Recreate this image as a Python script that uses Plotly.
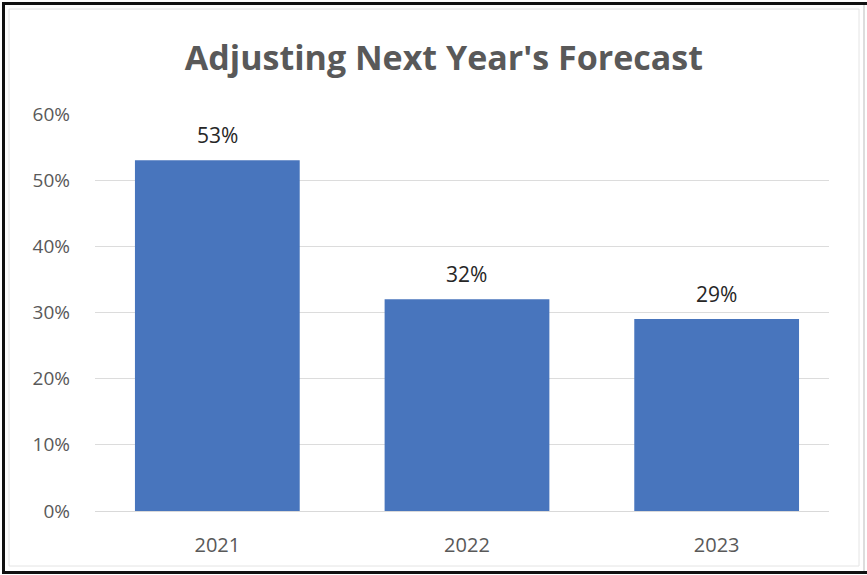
import plotly.graph_objects as go

# Share of respondents adjusting next year's forecast, by year
years = ["2021", "2022", "2023"]
shares = [0.53, 0.32, 0.29]
y_ticks = [0, 0.1, 0.2, 0.3, 0.4, 0.5, 0.6]
y_tick_labels = ["0%", "10%", "20%", "30%", "40%", "50%", "60%"]

W, H = 867, 575
L, R, T, B = 95, 38, 114, 64
FONT = "Open Sans, Liberation Sans, sans-serif"

fig = go.Figure()
fig.add_trace(go.Bar(
    x=years,
    y=shares,
    width=0.66,
    marker=dict(color="#4875bd", line=dict(width=0)),
    hoverinfo="skip",
))

# value labels above each bar (category index as x position)
for i, v in enumerate(shares):
    fig.add_annotation(
        x=i, y=v, xref="x", yref="y", text=f"{v:.0%}",
        showarrow=False, yanchor="bottom", yshift=9,
        font=dict(family=FONT, size=21, color="#262626"),
    )

fig.update_layout(
    width=W, height=H,
    margin=dict(l=L, r=R, t=T, b=B, pad=0),
    paper_bgcolor="white",
    plot_bgcolor="white",
    showlegend=False,
    title=dict(
        text="<b>Adjusting Next Year's Forecast</b>",
        x=0.512, xanchor="center",
        y=1 - 58 / H, yanchor="middle",
        font=dict(family=FONT, size=34, color="#595959"),
    ),
    xaxis=dict(
        type="category",
        range=[-0.49, 2.45],
        showgrid=False,
        showline=True, linecolor="#d9d9d9", linewidth=1,
        ticks="",
        tickfont=dict(family=FONT, size=20, color="#595959"),
        ticklabelstandoff=16,
    ),
    yaxis=dict(
        range=[0, 0.6],
        tickvals=y_ticks,
        ticktext=y_tick_labels,
        showgrid=True, gridcolor="#dcdcdc", gridwidth=1,
        zeroline=False,
        showline=False,
        ticks="",
        ticklabelstandoff=24,
        tickfont=dict(family=FONT, size=19, color="#595959"),
    ),
    shapes=[
        # light chart-area outline
        dict(type="rect", xref="paper", yref="paper",
             x0=(9 - L) / (W - L - R), x1=(859 - L) / (W - L - R),
             y0=-(566 - (H - B)) / (H - T - B), y1=1 + (T - 9) / (H - T - B),
             line=dict(color="#e4e4e4", width=1)),
        # dark outer frame (left, top, bottom)
        dict(type="line", xref="paper", yref="paper",
             x0=(3.5 - L) / (W - L - R), x1=(3.5 - L) / (W - L - R),
             y0=-(572.5 - (H - B)) / (H - T - B), y1=1 + (T - 3.5) / (H - T - B),
             line=dict(color="#111111", width=3)),
        dict(type="line", xref="paper", yref="paper",
             x0=(2 - L) / (W - L - R), x1=(W - L) / (W - L - R),
             y0=1 + (T - 3.5) / (H - T - B), y1=1 + (T - 3.5) / (H - T - B),
             line=dict(color="#111111", width=3)),
        dict(type="line", xref="paper", yref="paper",
             x0=(2 - L) / (W - L - R), x1=(W - L) / (W - L - R),
             y0=-(572.5 - (H - B)) / (H - T - B), y1=-(572.5 - (H - B)) / (H - T - B),
             line=dict(color="#111111", width=3)),
        # faint right edge
        dict(type="line", xref="paper", yref="paper",
             x0=(864 - L) / (W - L - R), x1=(864 - L) / (W - L - R),
             y0=-(571 - (H - B)) / (H - T - B), y1=1 + (T - 5) / (H - T - B),
             line=dict(color="#bbbbbb", width=1)),
    ],
)

fig.write_html("out.html")
